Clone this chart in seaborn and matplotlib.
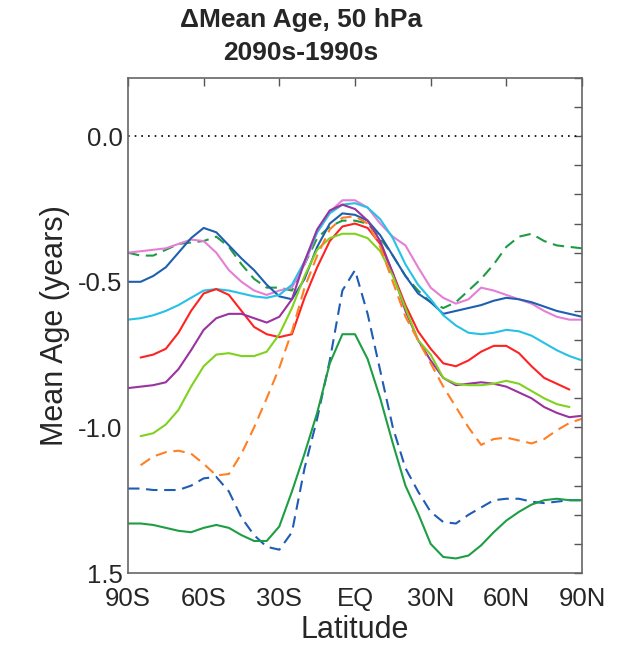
import numpy as np
import pandas as pd
import matplotlib
matplotlib.use("Agg")
import matplotlib.pyplot as plt
import seaborn as sns

sns.set_theme(style="white")
plt.rcParams['font.family'] = ['Liberation Sans', 'DejaVu Sans']

lat = list(range(-90, 91, 5))
N = None

dark_blue = [-0.50, -0.50, -0.48, -0.45, -0.40, -0.35, -0.315, -0.33, -0.375, -0.42, -0.46, -0.51, -0.55,
             -0.56, -0.49, -0.38, -0.30, -0.265, -0.27, -0.29, -0.34, -0.41, -0.48, -0.54, -0.57, -0.61,
             -0.60, -0.59, -0.58, -0.565, -0.555, -0.56, -0.57, -0.585, -0.60, -0.61, -0.62]
green_dashed = [-0.40, -0.41, -0.41, -0.39, -0.37, -0.365, -0.36, -0.345, -0.38, -0.44, -0.49, -0.52, -0.52,
                -0.53, -0.44, -0.35, -0.31, -0.29, -0.29, -0.30, -0.35, -0.41, -0.48, -0.53, -0.57, -0.59,
                -0.57, -0.53, -0.49, -0.44, -0.38, -0.345, -0.335, -0.36, -0.375, -0.38, -0.385]
pink = [-0.40, -0.395, -0.39, -0.385, -0.37, -0.355, -0.36, -0.40, -0.46, -0.50, -0.53, -0.545, -0.53,
        -0.52, -0.44, -0.33, -0.26, -0.22, -0.22, -0.245, -0.30, -0.345, -0.375, -0.45, -0.52, -0.555,
        -0.575, -0.56, -0.52, -0.53, -0.545, -0.56, -0.575, -0.60, -0.62, -0.63, -0.63]
cyan = [-0.63, -0.625, -0.615, -0.60, -0.58, -0.555, -0.53, -0.525, -0.53, -0.54, -0.55, -0.555, -0.545,
        -0.51, -0.43, -0.33, -0.265, -0.235, -0.23, -0.245, -0.285, -0.35, -0.44, -0.51, -0.56, -0.615,
        -0.65, -0.675, -0.68, -0.675, -0.665, -0.67, -0.685, -0.71, -0.735, -0.755, -0.77]
red = [N, -0.76, -0.75, -0.73, -0.675, -0.60, -0.54, -0.525, -0.545, -0.60, -0.655, -0.68, -0.69,
       -0.68, -0.555, -0.45, -0.36, -0.31, -0.30, -0.315, -0.37, -0.47, -0.58, -0.67, -0.73, -0.78,
       -0.79, -0.77, -0.74, -0.72, -0.72, -0.745, -0.79, -0.83, -0.85, -0.87, N]
purple = [-0.865, -0.86, -0.855, -0.845, -0.80, -0.735, -0.665, -0.625, -0.61, -0.61, -0.625, -0.64, -0.62,
          -0.56, -0.43, -0.32, -0.255, -0.235, -0.25, -0.29, -0.36, -0.47, -0.60, -0.70, -0.77, -0.83,
          -0.855, -0.85, -0.845, -0.85, -0.86, -0.88, -0.90, -0.93, -0.95, -0.965, -0.96]
light_green = [N, -1.03, -1.02, -0.99, -0.94, -0.86, -0.79, -0.75, -0.745, -0.755, -0.755, -0.74, -0.68,
               -0.59, -0.48, -0.39, -0.35, -0.335, -0.335, -0.35, -0.395, -0.48, -0.59, -0.70, -0.75, -0.83,
               -0.85, -0.855, -0.855, -0.85, -0.84, -0.85, -0.875, -0.90, -0.92, -0.93, N]
orange_dashed = [N, -1.13, -1.10, -1.085, -1.08, -1.09, -1.125, -1.165, -1.16, -1.09, -1.00, -0.90, -0.795,
                 -0.67, -0.52, -0.41, -0.32, -0.28, -0.275, -0.30, -0.38, -0.50, -0.62, -0.70, -0.78, -0.86,
                 -0.93, -1.00, -1.06, -1.04, -1.035, -1.045, -1.055, -1.04, -1.01, -0.985, -0.97]
blue_dashed = [-1.21, -1.21, -1.215, -1.215, -1.215, -1.20, -1.175, -1.17, -1.22, -1.31, -1.37, -1.41, -1.42,
               -1.36, -1.14, -0.97, -0.77, -0.53, -0.46, -0.61, -0.805, -1.00, -1.14, -1.22, -1.29, -1.325,
               -1.33, -1.30, -1.275, -1.25, -1.245, -1.245, -1.255, -1.26, -1.255, -1.25, -1.25]
green_solid = [-1.33, -1.33, -1.335, -1.345, -1.355, -1.36, -1.345, -1.335, -1.345, -1.37, -1.39, -1.39, -1.34,
               -1.22, -1.09, -0.95, -0.78, -0.68, -0.68, -0.765, -0.90, -1.055, -1.20, -1.295, -1.40, -1.445,
               -1.45, -1.44, -1.405, -1.36, -1.32, -1.29, -1.265, -1.25, -1.245, -1.25, -1.25]

series = [
    ("green_dashed", green_dashed, "#1f9a45", "dash"),
    ("pink", pink, "#e57ed6", "solid"),
    ("dark_blue", dark_blue, "#1f5fb0", "solid"),
    ("cyan", cyan, "#25c2e6", "solid"),
    ("red", red, "#ff2222", "solid"),
    ("purple", purple, "#9a32a0", "solid"),
    ("light_green", light_green, "#80d21e", "solid"),
    ("orange_dashed", orange_dashed, "#ff7f24", "dash"),
    ("blue_dashed", blue_dashed, "#1f5cb5", "dash"),
    ("green_solid", green_solid, "#1e9e44", "solid"),
]

x_ticks = [-90, -60, -30, 0, 30, 60, 90]
x_labels = ["90S", "60S", "30S", "EQ", "30N", "60N", "90N"]
y_ticks = [-1.5, -1.0, -0.5, 0.0]
y_labels = ["1.5", "-1.0", "-0.5", "0.0"]

fig = plt.figure(figsize=(6.25, 6.46), dpi=100)
ax = fig.add_axes([0.2048, 0.113, 0.7264, 0.7663])

ax.axhline(0.0, color="black", linestyle=(0, (1, 3)), linewidth=1.2, zorder=1)

for name, vals, color, style in series:
    df = pd.DataFrame({"lat": lat, "val": vals}).dropna()
    ls = (0, (5.5, 3.2)) if style == "dash" else "-"
    sns.lineplot(data=df, x="lat", y="val", ax=ax, color=color, linewidth=1.5,
                 linestyle=ls, sort=True, estimator=None)

ax.set_xlim(-90, 90)
ax.set_ylim(-1.5, 0.2)
ax.set_xticks(x_ticks)
ax.set_xticklabels(x_labels, fontsize=18.5)
ax.set_yticks(y_ticks)
ax.set_yticklabels(y_labels, fontsize=18.5)
ax.set_yticks(np.arange(-1.4, 0.25, 0.1), minor=True)
ax.tick_params(axis="both", which="both", direction="in", length=6, width=1,
               top=True, right=True, color="#555555")
ax.tick_params(axis="x", which="major", pad=10)
ax.tick_params(axis="y", which="major", pad=4)
for s in ax.spines.values():
    s.set_color("#666666")
    s.set_linewidth(1.2)

ax.set_xlabel("Latitude", fontsize=22, labelpad=3)
ax.set_ylabel("Mean Age (years)", fontsize=22, labelpad=6)
fig.text(0.481, 1 - 8 / 646, "\u0394Mean Age, 50 hPa\n2090s-1990s", fontsize=19,
         fontweight="bold", ha="center", va="top", linespacing=1.5)

fig.savefig("out.png", dpi=100)
